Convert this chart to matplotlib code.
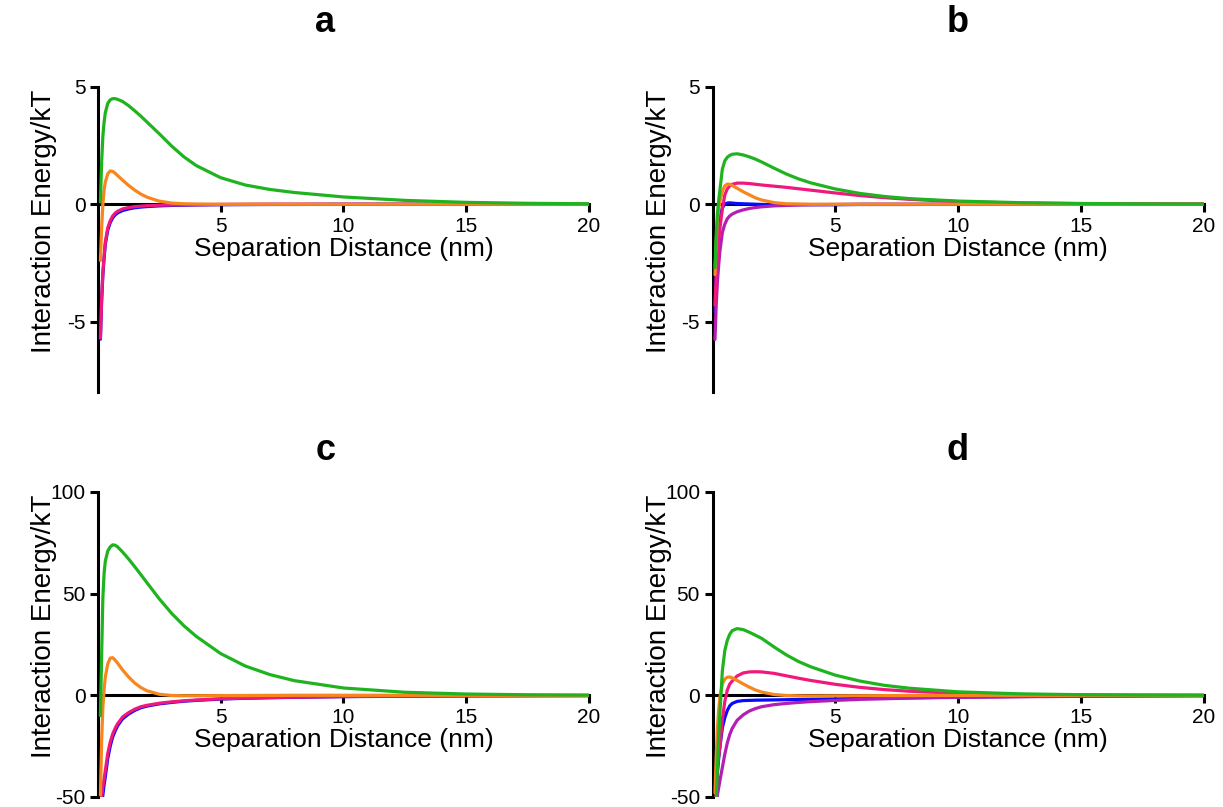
import matplotlib
matplotlib.use("Agg")
import matplotlib.pyplot as plt

plt.rcParams['font.family'] = ['Liberation Sans', 'DejaVu Sans']
plt.rcParams['axes.unicode_minus'] = False

# separation distance (nm), shared sample points for every curve
dist = [0.1, 0.15, 0.2, 0.25, 0.3, 0.4, 0.5, 0.6, 0.7, 0.8, 1.0, 1.25, 1.5, 1.75,
        2.0, 2.5, 3.0, 3.5, 4, 5, 6, 7, 8, 10, 12.5, 15, 17.5, 20]

# panel a
a_green = [0.1, 1.8, 2.9, 3.5, 3.9, 4.3, 4.45, 4.5, 4.5, 4.47, 4.38, 4.2, 3.98, 3.75,
           3.5, 3.0, 2.48, 2.02, 1.65, 1.13, 0.82, 0.63, 0.5, 0.31, 0.165, 0.08, 0.04, 0.02]
a_orange = [-2.4, -1.0, 0.0, 0.6, 0.95, 1.3, 1.42, 1.4, 1.32, 1.22, 1.03, 0.8, 0.6, 0.43,
            0.3, 0.13, 0.05, 0.02, 0.01, 0, 0, 0, 0, 0, 0, 0, 0, 0]
a_blue = [-5.75, -4.1, -3.0, -2.3, -1.7, -1.1, -0.78, -0.58, -0.45, -0.37, -0.27, -0.2, -0.15, -0.12,
          -0.1, -0.07, -0.05, -0.04, -0.03, -0.02, -0.015, -0.01, -0.01, 0, 0, 0, 0, 0]
a_pink = [-5.7, -4.0, -2.9, -2.2, -1.6, -1.0, -0.7, -0.5, -0.38, -0.3, -0.2, -0.14, -0.1, -0.08,
          -0.06, -0.04, -0.03, -0.02, -0.02, -0.01, 0, 0, 0, 0, 0, 0, 0, 0]

# panel b
b_green = [-2.7, -1.3, -0.4, 0.15, 0.6, 1.5, 1.85, 2.0, 2.08, 2.13, 2.15, 2.1, 2.02, 1.92,
           1.8, 1.54, 1.29, 1.08, 0.91, 0.65, 0.46, 0.33, 0.24, 0.135, 0.067, 0.033, 0.016, 0.008]
b_orange = [-3.0, -1.6, -0.7, -0.2, 0.1, 0.55, 0.78, 0.86, 0.85, 0.8, 0.68, 0.53, 0.4, 0.27,
            0.18, 0.07, 0.02, 0.01, 0, 0, 0, 0, 0, 0, 0, 0, 0, 0]
b_blue = [-4.6, -3.0, -1.8, -1.0, -0.55, -0.15, 0.0, 0.05, 0.06, 0.05, 0.03, 0.02, 0.01, 0.0,
          -0.01, -0.02, -0.02, -0.02, -0.02, -0.02, -0.01, -0.01, -0.01, 0, 0, 0, 0, 0]
b_purple = [-5.76, -4.3, -3.3, -2.6, -2.0, -1.2, -0.85, -0.62, -0.5, -0.42, -0.32, -0.24, -0.18, -0.14,
            -0.11, -0.07, -0.05, -0.03, -0.02, -0.01, 0, 0, 0, 0, 0, 0, 0, 0]
b_pink = [-4.3, -3.0, -2.1, -1.5, -1.05, -0.2, 0.4, 0.65, 0.78, 0.85, 0.9, 0.9, 0.88, 0.85,
          0.82, 0.77, 0.72, 0.66, 0.6, 0.48, 0.37, 0.28, 0.21, 0.11, 0.05, 0.025, 0.012, 0.006]

# panel c
c_green = [-10, 20, 48, 60, 66, 71, 73, 74, 73.8, 73, 70.5, 67, 63.2, 59.3,
           55.3, 47.4, 40.3, 34.2, 29.0, 20.5, 14.4, 10.2, 7.2, 3.6, 1.5, 0.63, 0.26, 0.11]
c_orange = [-49, -22, -6, 3, 9, 15.5, 18.3, 18.5, 17.3, 15.8, 12.5, 9, 6, 3.8,
            2.2, 0.5, -0.1, -0.2, -0.2, -0.15, -0.1, -0.05, 0, 0, 0, 0, 0, 0]
c_blue = [-70, -54, -49, -44, -40, -31, -25, -20.5, -17.5, -15, -11.6, -9.2, -7.4, -6.1,
          -5.3, -4.2, -3.5, -2.9, -2.5, -1.85, -1.45, -1.2, -1.0, -0.65, -0.45, -0.3, -0.22, -0.16]
c_pink = [-65, -50, -45, -41, -37, -28.5, -23, -19, -16.2, -14, -10.7, -8.5, -6.8, -5.6,
          -4.9, -3.9, -3.2, -2.7, -2.3, -1.7, -1.35, -1.1, -0.9, -0.6, -0.4, -0.28, -0.2, -0.15]

# panel d
d_green = [-70, -52, -35, -20, -9, 12, 22, 27, 30, 31.8, 32.8, 32.3, 31, 29.5,
           28, 23.8, 19.9, 16.6, 14.0, 9.9, 7.0, 4.9, 3.5, 1.7, 0.72, 0.3, 0.13, 0.05]
d_orange = [-48, -30, -16, -7, -1, 5.5, 8.0, 8.9, 9.0, 8.6, 7.3, 5.6, 4.0, 2.6,
            1.6, 0.4, -0.1, -0.25, -0.3, -0.25, -0.2, -0.15, -0.1, -0.05, 0, 0, 0, 0]
d_blue = [-70, -50, -38, -31, -25.5, -16, -11, -7.5, -5.2, -4.0, -3.0, -2.6, -2.5, -2.4,
          -2.35, -2.25, -2.15, -2.05, -1.95, -1.75, -1.55, -1.4, -1.2, -0.9, -0.6, -0.4, -0.25, -0.15]
d_purple = [-80, -60, -49, -45.5, -42, -35.5, -29, -23.5, -19.3, -16.3, -12.3, -9.6, -7.7, -6.5,
            -5.6, -4.6, -4.0, -3.5, -3.1, -2.5, -2.0, -1.7, -1.4, -1.0, -0.7, -0.5, -0.35, -0.25]
d_pink = [-65, -45, -36, -30, -25.5, -12, -3, 2.5, 5.5, 7.0, 9.5, 11, 11.5, 11.6,
          11.5, 10.8, 9.6, 8.4, 7.3, 5.4, 3.9, 2.8, 2.0, 1.0, 0.4, 0.16, 0.06, 0.03]

colors = {'green': '#1fb41f', 'orange': '#f7861e', 'blue': '#0a0aff',
          'purple': '#b41eb4', 'pink': '#f0187c'}

panels = [
    ('a', [0.0801, 0.5143, 0.4015, 0.378], (-8, 5), [-5, 0, 5],
     [('blue', a_blue), ('pink', a_pink), ('orange', a_orange), ('green', a_green)]),
    ('b', [0.5826, 0.5143, 0.4019, 0.378], (-8, 5), [-5, 0, 5],
     [('blue', b_blue), ('purple', b_purple), ('pink', b_pink), ('orange', b_orange), ('green', b_green)]),
    ('c', [0.0801, 0.0124, 0.4015, 0.378], (-50, 100), [-50, 0, 50, 100],
     [('blue', c_blue), ('pink', c_pink), ('orange', c_orange), ('green', c_green)]),
    ('d', [0.5826, 0.0124, 0.4019, 0.378], (-50, 100), [-50, 0, 50, 100],
     [('blue', d_blue), ('purple', d_purple), ('pink', d_pink), ('orange', d_orange), ('green', d_green)]),
]

title_pos = {'a': (0.266, 0.972), 'b': (0.783, 0.972), 'c': (0.266, 0.442), 'd': (0.783, 0.442)}

fig = plt.figure(figsize=(12.23, 8.07), dpi=100)

for name, rect, ylim, yticks, curves in panels:
    ax = fig.add_axes(rect)
    for col, vals in curves:
        ax.plot(dist, vals, color=colors[col], lw=2.3, solid_capstyle='round', zorder=3)
    ax.set_xlim(0, 20)
    ax.set_ylim(*ylim)
    ax.set_xticks([5, 10, 15, 20])
    ax.set_yticks(yticks)
    ax.spines['top'].set_visible(False)
    ax.spines['right'].set_visible(False)
    ax.spines['bottom'].set_position(('data', 0))
    ax.spines['bottom'].set_zorder(2)
    for s in ['left', 'bottom']:
        ax.spines[s].set_linewidth(2.2)
    ax.tick_params(direction='out', length=6, width=2.2, labelsize=15, pad=3)
    ax.set_xlabel('Separation Distance (nm)', fontsize=19, labelpad=1)
    ax.set_ylabel('Interaction Energy/kT', fontsize=20)
    ax.yaxis.set_label_coords(-0.083, 0.56)
    fig.text(title_pos[name][0], title_pos[name][1], name, fontsize=26,
             fontweight='bold', ha='center', va='center')

fig.savefig('out.png', dpi=100)
